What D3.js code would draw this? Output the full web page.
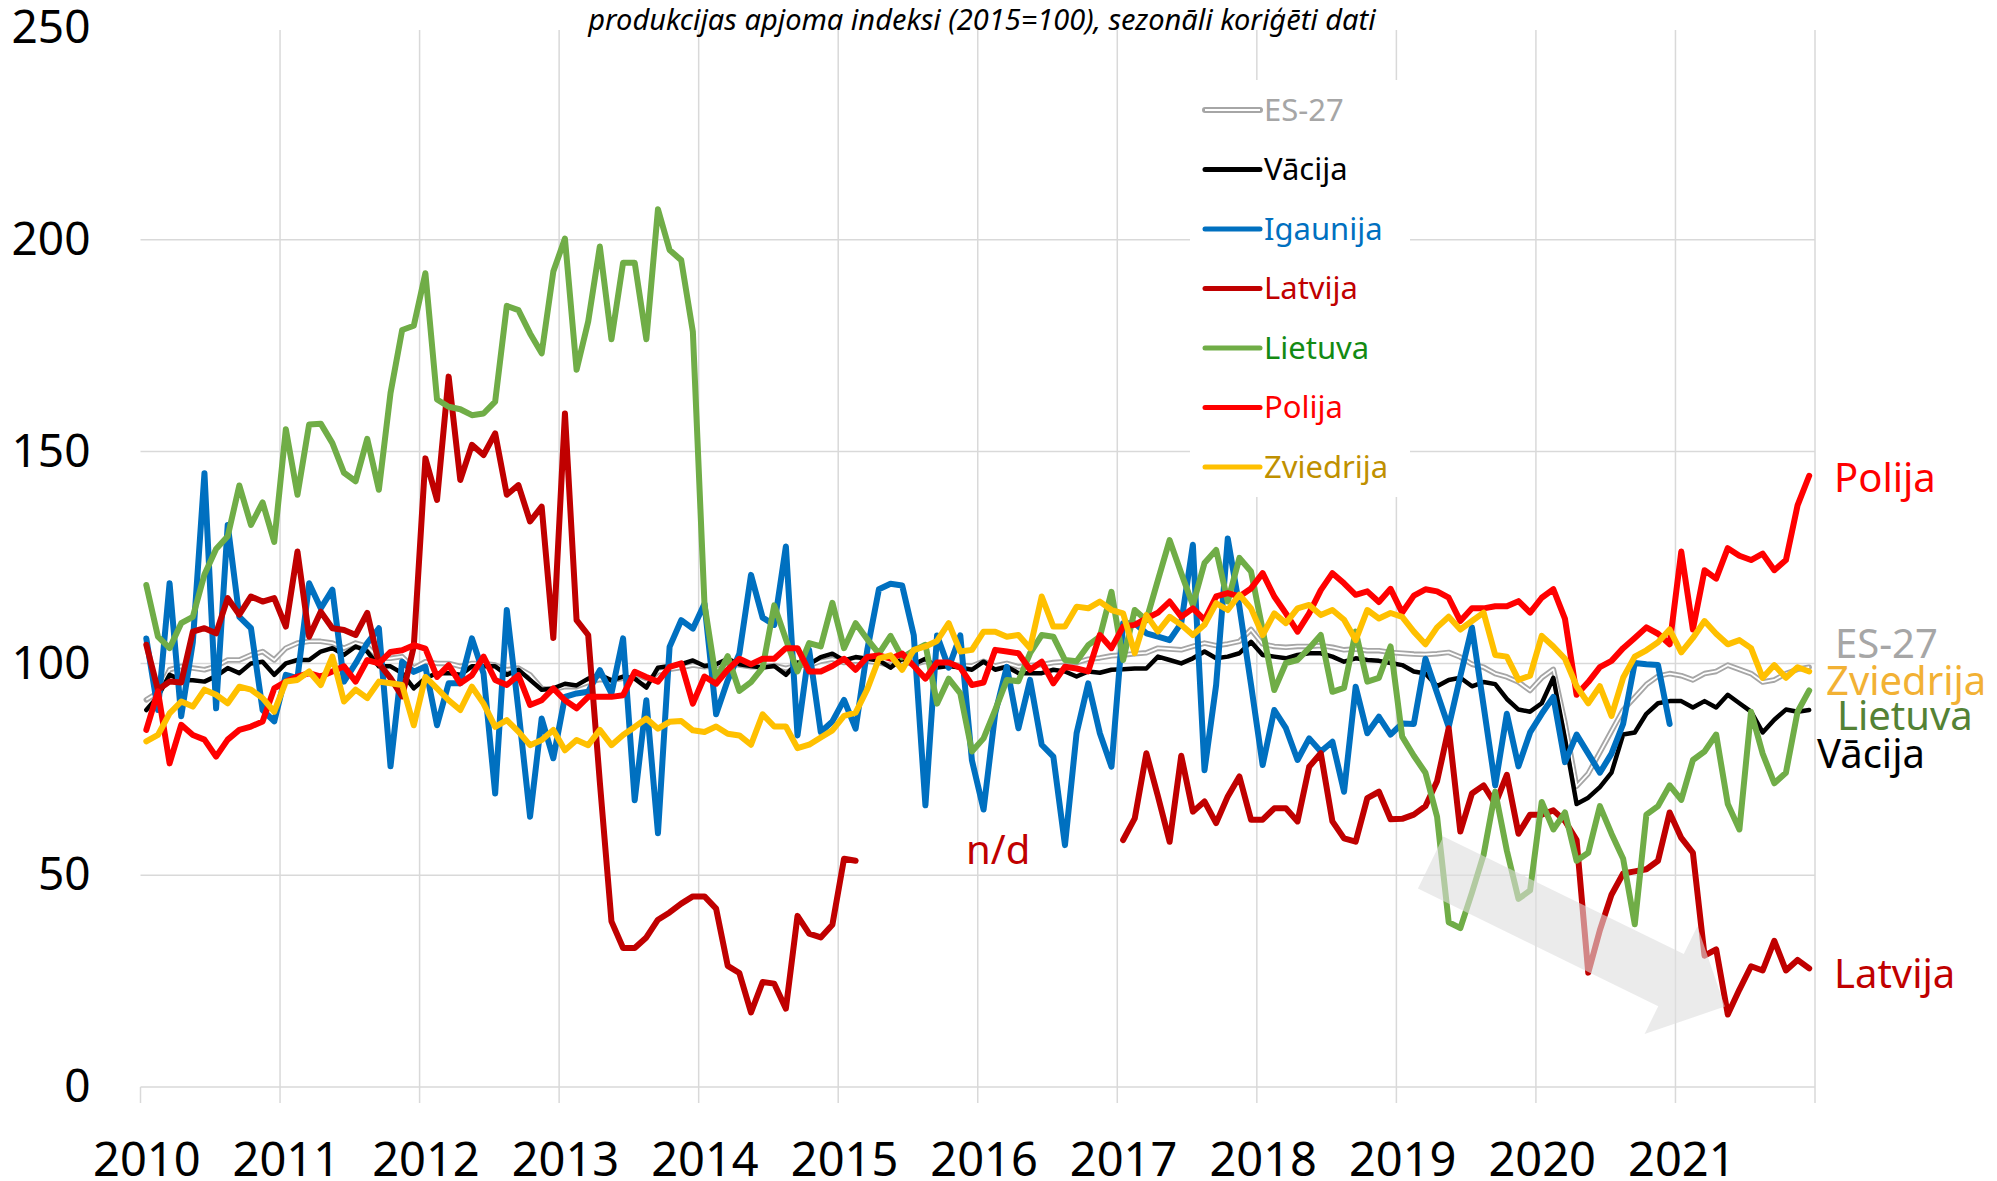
<!DOCTYPE html>
<html>
<head>
<meta charset="utf-8">
<script src="https://cdn.jsdelivr.net/npm/d3@7"></script>
<style>
  body { margin: 0; background: #fff; }
  svg text { font-family: "Noto Sans", "Open Sans", sans-serif; }
</style>
</head>
<body>
<div id="my_dataviz"></div>
<script>
// ---- data (monthly, Jan 2010 - Dec 2021) ----
var years = [2010, 2011, 2012, 2013, 2014, 2015, 2016, 2017, 2018, 2019, 2020, 2021];
var yTicks = [0, 50, 100, 150, 200, 250];

var es27 = [91.4, 93.1, 98.5, 99.3, 98.9, 98.5, 99.3, 100.8, 100.8, 102, 102.8, 100.8,
  103.6, 104.8, 105.2, 105.2, 104.8, 103.6, 104.8, 104, 101.2, 101.2, 101.6, 98.9,
  100.4, 100, 100, 99.3, 100, 100, 99.6, 98.5, 98.9, 97.3, 94.1, 93.8,
  94.5, 94.5, 95.5, 96.2, 96, 96.5, 96.6, 95.5, 98, 98.6, 99, 99.6,
  99.2, 99.5, 100, 99.6, 99.2, 99.2, 99.5, 98.8, 99.6, 99.5, 100.5, 101,
  100.2, 100.6, 100.5, 100.2, 99.5, 100.4, 99.8, 100.5, 99.6, 99.8, 99.5, 99.4,
  100.5, 99.4, 100, 99.2, 99.5, 99.7, 100.2, 100.4, 100.2, 101, 101.3, 101.8,
  102, 102.3, 102.5, 103.6, 103.4, 103.2, 104, 104.8, 104.2, 104.6, 105.2, 108,
  104.6, 104, 103.8, 104, 104, 104.2, 103.8, 103.2, 103.4, 103, 103, 102.6,
  102.4, 102.2, 102.1, 102.3, 102.6, 101.5, 99.8, 99.1, 97.6, 96.8, 95.6, 93.6,
  96.6, 98.6, 86, 71, 74, 79, 84, 89, 92, 95, 97, 97.6,
  97.1, 96.1, 97.6, 98.1, 99.6, 98.6, 97.6, 95.6, 96.1, 97.6, 98.6, 99.1];

var vacija = [89, 92.2, 97.3, 96.1, 96, 95.7, 97, 98.9, 97.7, 100, 100.4, 97.3,
  100, 100.8, 100.8, 102.8, 103.6, 102, 104, 102.8, 99.3, 99.3, 97.7, 94.1,
  96.5, 97.7, 97.7, 97.3, 99.3, 99.3, 99.3, 97.3, 98.5, 96.1, 93.8, 94.1,
  95.2, 94.8, 96.4, 97.3, 96, 96.9, 96.4, 94.3, 99, 99.4, 99.8, 100.7,
  99.4, 99.8, 101.1, 99.8, 99.4, 99, 99.4, 97.3, 100.2, 99.8, 101.5, 102.3,
  100.7, 101.5, 101.1, 100.7, 99, 101.1, 99.8, 101.1, 99, 99.4, 99, 98.5,
  100.4, 98.5, 99.2, 97.7, 97.7, 97.7, 98.5, 98.1, 96.9, 98.1, 97.8, 98.5,
  98.6, 98.8, 98.8, 101.6, 100.8, 100, 101.2, 102.8, 101.2, 101.6, 102.4, 105.1,
  102, 101.6, 101.2, 102, 102.4, 102.4, 101.6, 100.4, 101.2, 100.8, 100.6, 100.1,
  99.6, 98.1, 97.6, 94.6, 96.1, 96.6, 94.6, 95.6, 95.1, 91.6, 89.1, 88.6,
  90.6, 96.6, 82.2, 66.8, 68.3, 70.8, 74.2, 83.2, 83.7, 88.1, 90.6, 91.1,
  91.1, 89.6, 91.1, 89.6, 92.6, 90.6, 88.6, 83.7, 86.7, 89.1, 88.6, 89];

var igaunija = [105.9, 89, 118.9, 87.5, 105, 144.9, 89.4, 132.7, 111, 108.3, 89, 86.3,
  97.3, 96.5, 118.9, 113, 117.4, 95.7, 100, 104.8, 108.3, 75.7, 100.4, 98,
  99.2, 85.4, 95.3, 95.3, 105.9, 97.6, 69.3, 112.6, 89, 63.8, 87, 77.6,
  92.1, 92.9, 93.3, 98.4, 92.9, 105.9, 67.7, 91.3, 59.9, 103.9, 110.2, 108.2,
  114.1, 88, 96, 102.3, 120.9, 110.8, 109.1, 127.6, 83, 103.2, 83.8, 86.3,
  91.4, 84.6, 103.2, 117.5, 118.8, 118.4, 106.6, 66.5, 106.6, 99, 106.6, 77.1,
  65.5, 88.2, 99.2, 84.7, 96.1, 80.8, 78, 57.1, 83.5, 95.3, 83.5, 75.6,
  109.5, 109.5, 107.1, 106.3, 105.5, 109.5, 128, 74.8, 94.9, 129.5, 113.4, 95,
  76, 89, 84.7, 77.2, 82.3, 79.2, 81.5, 69.7, 94.5, 83.5, 87.4, 83.2,
  85.8, 85.7, 101.1, 93, 85, 97, 108.5, 90, 71.2, 88.1, 75.7, 83.7,
  88.1, 92.1, 76.7, 83.2, 78.7, 74.2, 78.7, 85.7, 100.1, 99.8, 99.6, 85.7,
  null, null, null, null, null, null, null, null, null, null, null, null];

var latvija = [104.4, 93.8, 95.7, 95.5, 107.5, 108.3, 107.1, 115.4, 111.5, 115.8, 114.6, 115.4,
  108.7, 126.4, 106.3, 112.2, 108.3, 107.9, 106.7, 111.9, 100, 96.5, 92.2, 104,
  148.4, 138.6, 167.7, 143.3, 151.6, 149.2, 154.3, 139.8, 142.1, 133.5, 137, 106,
  159, 110.2, 106.7, 72, 39.1, 32.8, 32.8, 35.3, 39.5, 41.2, 43.3, 45,
  45, 42.1, 28.6, 26.9, 17.6, 24.8, 24.4, 18.5, 40.4, 36.2, 35.3, 38.3,
  53.9, 53.4, null, null, null, null, null, null, null, null, null, null,
  null, null, null, null, null, null, null, null, null, null, null, null,
  58.3, 63.4, 78.8, 68.6, 57.9, 78.2, 65, 67.4, 62.3, 68.6, 73.3, 63.1,
  63.1, 65.8, 65.8, 62.7, 75.6, 78.8, 62.7, 58.7, 57.9, 68.2, 69.7, 63.2,
  63.3, 64.3, 66.3, 72.2, 84.7, 60.3, 69.3, 71.2, 66.8, 73.7, 59.8, 64.3,
  64.3, 65.3, 62.8, 58.3, 27, 37, 45.4, 50.4, 50.9, 51.4, 53.4, 64.8,
  58.8, 55.3, 31, 32.5, 17.1, 23, 28.5, 27.5, 34.5, 27.5, 30, 28];

var lietuva = [118.5, 106.3, 103.6, 109.5, 111, 121, 127, 130, 142, 132.7, 138, 128.7,
  155.3, 139.8, 156.4, 156.6, 152, 145, 143, 153, 141, 163.8, 178.7, 179.7,
  192.1, 162.3, 160.6, 160, 158.6, 159, 161.8, 184.4, 183.4, 177.9, 173.2, 192.5,
  200.3, 169.3, 180.7, 198.4, 176.5, 194.6, 194.6, 176.5, 207.2, 197.6, 195.2, 178.3,
  114, 96.2, 101.7, 93.5, 95.6, 99, 113.7, 105.7, 98.1, 104.8, 104, 114.3,
  103.6, 109.5, 105.7, 102.3, 106.5, 101.4, 103, 104.4, 90.5, 96.4, 92.9, 79.2,
  82.3, 89, 96.1, 95.8, 102.4, 106.7, 106.3, 100.8, 100.5, 104.3, 106.3, 116.9,
  100.8, 112.6, 110.2, 119.7, 129.1, 121.3, 113.8, 123.7, 126.8, 114.6, 124.9, 121.7,
  107.9, 93.7, 100.1, 100.8, 103.6, 106.7, 93.3, 94.2, 107.5, 95.7, 96.6, 104,
  82.7, 78.2, 74.2, 63.8, 38.9, 37.5, 45.9, 54.8, 69.7, 55.8, 44.4, 46.4,
  67.3, 60.8, 64.8, 53.4, 55.3, 66.3, 59.8, 53.9, 38.4, 64.3, 66.3, 71.2,
  67.8, 77.2, 79.2, 83.2, 66.8, 60.8, 88.6, 78.7, 71.7, 74.2, 88.6, 93.6];

var polija = [84.3, 93.4, 76.4, 85.5, 83.1, 82, 78, 82, 84.3, 85.1, 86.3, 94.1,
  95.7, 96.9, 97.7, 96.9, 98.1, 99.3, 95.7, 100.8, 100, 102.7, 103.1, 104.3,
  103.5, 96.8, 99.6, 95.3, 97.2, 101.6, 96.1, 94.9, 97.2, 90.2, 91.3, 94.1,
  91.3, 89.4, 92.1, 92.1, 92.1, 92.5, 98, 96.8, 95.7, 99.2, 100, 90.5,
  96.9, 95.2, 98.5, 101.1, 99.8, 101.1, 101.1, 103.6, 103.6, 98.1, 98.1, 99.4,
  101.1, 98.5, 101.5, 101.9, 101.1, 102.3, 99.4, 96.4, 100.2, 100.2, 99, 94.9,
  95.5, 103.2, 102.8, 102.4, 98.5, 100.4, 95.3, 99.2, 98.8, 98.1, 106.7, 103.6,
  108.7, 109.1, 110.6, 112, 114.6, 111, 113, 110.3, 115.8, 116.6, 115.8, 117.7,
  121.3, 115.8, 111.8, 107.5, 111.8, 117.3, 121.3, 118.9, 116.2, 117, 114.5, 117.6,
  112, 116, 117.5, 117, 115.5, 110, 113, 113, 113.5, 113.5, 114.7, 112,
  115.5, 117.5, 110.5, 92.6, 95.6, 99.1, 100.6, 103.6, 106, 108.5, 107, 104.5,
  126.4, 108, 122, 120, 127.2, 125.4, 124.4, 125.9, 122, 124.4, 137.3, 144.3];

var zviedrija = [81.6, 83.1, 88.2, 91, 89.8, 93.8, 92.6, 90.6, 94.5, 93.8, 91.8, 88.6,
  95.7, 96.1, 98.1, 94.9, 101.6, 91, 93.8, 91.8, 95.7, 95.3, 94.9, 85.4,
  96.8, 94.1, 91.3, 89, 94.5, 90.5, 85, 86.6, 83.9, 80.7, 81.9, 84.3,
  79.5, 81.9, 80.7, 84.3, 80.7, 83.1, 85, 87, 84.6, 86.2, 86.4, 84.2,
  83.8, 85.1, 83.4, 83, 80.8, 88, 85.1, 85.1, 80, 80.8, 82.5, 84.2,
  87.6, 88.4, 93.9, 101.1, 101.9, 98.5, 103.2, 104, 105.3, 109.5, 102.8, 103.2,
  107.5, 107.5, 106.3, 106.7, 103.6, 115.8, 108.7, 108.7, 113.4, 113, 114.6, 112.6,
  111.8, 102.4, 111.4, 107.5, 111, 109.1, 106.7, 109.1, 114.2, 112.6, 116.2, 113,
  106.7, 111.8, 109.5, 113, 113.8, 111.4, 112.6, 110.3, 105.5, 112.6, 110.6, 111.9,
  111, 107.5, 104.5, 108.5, 111, 108, 110, 112, 102, 101.6, 96.1, 97.1,
  106.5, 104, 101.1, 94.6, 90.6, 94.6, 87.6, 96.6, 101.6, 103.1, 105, 108,
  102.6, 106, 110, 107, 104.5, 105.5, 103.6, 96.6, 99.6, 96.6, 99.1, 98.1];

var series = [
  {name: "ES-27",     values: es27,      color: "#a6a6a6", text: "#a6a6a6", width: 5.5, double: true},
  {name: "Vācija",    values: vacija,    color: "#000000", text: "#000000", width: 4.5},
  {name: "Igaunija",  values: igaunija,  color: "#0070c0", text: "#0070c0", width: 6},
  {name: "Latvija",   values: latvija,   color: "#c00000", text: "#c00000", width: 6},
  {name: "Lietuva",   values: lietuva,   color: "#70ad47", text: "#138a13", width: 6},
  {name: "Polija",    values: polija,    color: "#ff0000", text: "#ff0000", width: 6},
  {name: "Zviedrija", values: zviedrija, color: "#ffc000", text: "#bf9000", width: 6}
];

// end labels on the right: name, level (index value) and colour
var endLabels = [
  {name: "Polija",    v: 143.8, color: "#ff0000", dx: 19},
  {name: "ES-27",     v: 104.6, color: "#a6a6a6", dx: 20},
  {name: "Zviedrija", v: 95.8,  color: "#f2b134", dx: 11},
  {name: "Lietuva",   v: 87.6,  color: "#548235", dx: 22},
  {name: "Vācija",    v: 78.6,  color: "#000000", dx: 2},
  {name: "Latvija",   v: 26.7,  color: "#c00000", dx: 19}
];

var width = 1997, height = 1181;

var svg = d3.select("#my_dataviz")
  .append("svg")
  .attr("width", width)
  .attr("height", height);

var x = d3.scaleLinear().domain([0, 144]).range([140.5, 1815]);
var y = d3.scaleLinear().domain([0, 250]).range([1087, 28]);
function xm(i) { return x(i + 0.5); }

// horizontal gridlines
svg.append("g")
  .selectAll("line")
  .data(yTicks.filter(function(d) { return d > 0 && d < 250; }))
  .enter()
  .append("line")
  .attr("x1", x(0)).attr("x2", x(144))
  .attr("y1", function(d) { return y(d); })
  .attr("y2", function(d) { return y(d); })
  .attr("stroke", "#d9d9d9")
  .attr("stroke-width", 1.5);

// vertical year gridlines (with tick below axis)
svg.append("g")
  .selectAll("line")
  .data(d3.range(0, 13))
  .enter()
  .append("line")
  .attr("x1", function(d) { return x(d * 12); })
  .attr("x2", function(d) { return x(d * 12); })
  .attr("y1", function(d) { return d === 0 ? y(0) : y(250) + 2; })
  .attr("y2", y(0) + 16)
  .attr("stroke", "#d9d9d9")
  .attr("stroke-width", 1.5);

// x axis baseline
svg.append("line")
  .attr("x1", x(0)).attr("x2", x(144))
  .attr("y1", y(0)).attr("y2", y(0))
  .attr("stroke", "#d9d9d9")
  .attr("stroke-width", 1.5);

// y axis labels
var yAxis = svg.append("g")
  .attr("transform", "translate(" + x(0) + ",0)")
  .call(d3.axisLeft(y).tickValues(yTicks).tickSize(0).tickPadding(50));
yAxis.select(".domain").remove();
yAxis.selectAll("text")
  .style("font-size", "46px")
  .style("font-family", "'Noto Sans', 'Open Sans', sans-serif")
  .attr("fill", "#000");

// x axis labels
var xAxis = svg.append("g")
  .attr("transform", "translate(0," + y(0) + ")")
  .call(d3.axisBottom(x)
    .tickValues(years.map(function(d, k) { return k * 12 + 0.5; }))
    .tickFormat(function(d, k) { return years[k]; })
    .tickSize(0).tickPadding(56));
xAxis.select(".domain").remove();
xAxis.selectAll("text")
  .style("font-size", "47px")
  .style("font-family", "'Noto Sans', 'Open Sans', sans-serif")
  .attr("fill", "#000");

// title
svg.append("text")
  .attr("x", 982)
  .attr("y", 30)
  .attr("text-anchor", "middle")
  .style("font-size", "29px")
  .style("font-style", "italic")
  .text("produkcijas apjoma indeksi (2015=100), sezonāli koriģēti dati");

// lines
var line = d3.line()
  .defined(function(d) { return d != null; })
  .x(function(d, i) { return xm(i); })
  .y(function(d) { return y(d); });

series.forEach(function(s) {
  svg.append("path")
    .datum(s.values)
    .attr("fill", "none")
    .attr("stroke", s.color)
    .attr("stroke-width", s.width)
    .attr("stroke-linejoin", "round")
    .attr("stroke-linecap", "round")
    .attr("d", line);
  if (s.double) {
    svg.append("path")
      .datum(s.values)
      .attr("fill", "none")
      .attr("stroke", "#ffffff")
      .attr("stroke-width", 1.8)
      .attr("stroke-linejoin", "round")
      .attr("d", line);
  }
});

// translucent arrow (from mid-2019 down to spring 2021)
var a0 = [xm(110.45), y(53.0)], a1 = [xm(135.75), y(19.0)];
var ang = Math.atan2(a1[1] - a0[1], a1[0] - a0[0]);
var len = Math.hypot(a1[0] - a0[0], a1[1] - a0[1]);
var bw = 29, hl = 60, hw = 60;
var arrowPts = [[0, -bw], [len - hl, -bw], [len - hl, -hw], [len, 0], [len - hl, hw], [len - hl, bw], [0, bw]];
svg.append("polygon")
  .attr("points", arrowPts.map(function(p) { return p.join(","); }).join(" "))
  .attr("transform", "translate(" + a0[0] + "," + a0[1] + ") rotate(" + (ang * 180 / Math.PI) + ")")
  .attr("fill", "#dedede")
  .attr("fill-opacity", 0.6);

// n/d label
svg.append("text")
  .attr("x", xm(70.5))
  .attr("y", y(50) - 11)
  .attr("fill", "#c00000")
  .style("font-size", "40px")
  .text("n/d");

// legend
var legend = svg.append("g").attr("transform", "translate(1190,80)");
legend.append("rect")
  .attr("width", 220).attr("height", 417)
  .attr("fill", "#fff");
series.forEach(function(s, k) {
  var ly = 30 + k * 59.5;
  legend.append("line")
    .attr("x1", 15).attr("x2", 70)
    .attr("y1", ly).attr("y2", ly)
    .attr("stroke", s.color)
    .attr("stroke-width", s.double ? 6 : 5)
    .attr("stroke-linecap", "round");
  if (s.double) {
    legend.append("line")
      .attr("x1", 15).attr("x2", 70)
      .attr("y1", ly).attr("y2", ly)
      .attr("stroke", "#fff")
      .attr("stroke-width", 2);
  }
  legend.append("text")
    .attr("x", 74)
    .attr("y", ly)
    .attr("dy", "0.35em")
    .attr("fill", s.text)
    .style("font-size", "31px")
    .text(s.name);
});

// end labels
svg.append("g")
  .selectAll("text")
  .data(endLabels)
  .enter()
  .append("text")
  .attr("x", function(d) { return x(144) + d.dx; })
  .attr("y", function(d) { return y(d.v); })
  .attr("dy", "0.35em")
  .attr("fill", function(d) { return d.color; })
  .style("font-size", "40px")
  .text(function(d) { return d.name; });
</script>
</body>
</html>
